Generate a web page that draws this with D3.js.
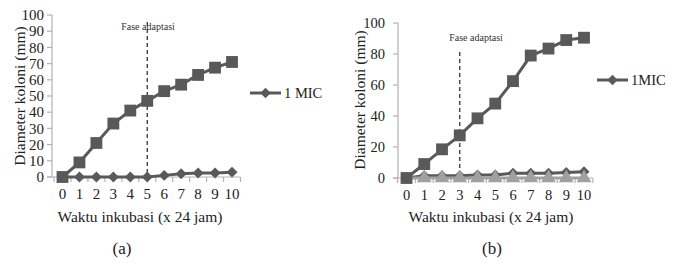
<!DOCTYPE html>
<html><head><meta charset="utf-8">
<script src="https://cdn.jsdelivr.net/npm/d3@7"></script>
<style>body{margin:0;background:#fff}svg{display:block}text{font-family:"Liberation Serif","Times New Roman",serif}</style>
</head><body><svg id="c" width="681" height="266"></svg>
<script>
const days = [0,1,2,3,4,5,6,7,8,9,10];
const leftControl = [0,9,21,33,41,47,53,57,63,67.5,71];
const leftMIC = [0,0,0,0,0,0,1,2,2.5,2.5,3];
const rightControl = [0,9,18.5,27.5,38.5,48,62.5,79,83.5,89,90.5];
const rightMIC = [0,1.5,1.5,1.5,2,2,3,3,3,3.5,4];
const rightOther = [0,0,0,0,0,0,0,0,0,0,0];
const leftYTicks = [0,10,20,30,40,50,60,70,80,90,100];
const rightYTicks = [0,20,40,60,80,100];
const yTitle = "Diameter koloni (mm)";
const xTitle = "Waktu inkubasi (x 24 jam)";
const phaseLabel = "Fase adaptasi";

const svg = d3.select("#c");
const dark = "#595959", light = "#a0a0a0", axisC = "#b3b3b3";

function panel(o){
  const g = svg.append("g");
  const x = d3.scaleLinear().domain([0,10]).range([o.x0,o.x1]);
  const step = (o.x1-o.x0)/10;
  const y = d3.scaleLinear().domain([0,100]).range([o.yb,o.yt]);
  g.append("line").attr("x1",o.ax).attr("x2",o.ax).attr("y1",o.yt).attr("y2",o.yb).attr("stroke",axisC).attr("stroke-width",1.2);
  o.yticks.forEach(t=>{
    g.append("line").attr("x1",o.ax-5).attr("x2",o.ax).attr("y1",y(t)).attr("y2",y(t)).attr("stroke",axisC).attr("stroke-width",1.2);
    g.append("text").attr("x",o.lx).attr("y",y(t)).attr("dy","0.35em").attr("text-anchor","end").attr("font-size",o.tfs).attr("fill","#222").text(t);
  });
  const xa1 = o.x1+step/2;
  g.append("line").attr("x1",o.ax-5).attr("x2",xa1).attr("y1",o.yb).attr("y2",o.yb).attr("stroke",axisC).attr("stroke-width",1.2);
  for(let i=0;i<=11;i++){
    const xx = x(i-0.5);
    g.append("line").attr("x1",xx).attr("x2",xx).attr("y1",o.yb).attr("y2",o.yb+5).attr("stroke",axisC).attr("stroke-width",1.2);
  }
  days.forEach(d=>{
    g.append("text").attr("x",x(d)).attr("y",o.yb+17).attr("dy","0.35em").attr("text-anchor","middle").attr("font-size",o.tfs).attr("fill","#222").text(d);
  });
  g.append("line").attr("x1",x(o.phase)).attr("x2",x(o.phase)).attr("y1",o.dashTop).attr("y2",o.yb).attr("stroke","#333").attr("stroke-width",1.3).attr("stroke-dasharray","4,3");
  g.append("text").attr("x",o.phaseLx).attr("y",o.phaseLy).attr("dy","0.35em").attr("text-anchor","middle").attr("font-size",10).attr("fill","#333").text(phaseLabel);
  g.append("text").attr("transform",`translate(${o.ytx},${o.yty}) rotate(-90)`).attr("dy","0.35em").attr("text-anchor","middle").attr("font-size",15.5).attr("fill","#222").text(yTitle);
  g.append("text").attr("x",o.xtx).attr("y",217).attr("dy","0.35em").attr("text-anchor","middle").attr("font-size",15.5).attr("fill","#222").text(xTitle);
  g.append("text").attr("x",o.capx).attr("y",248).attr("dy","0.35em").attr("text-anchor","middle").attr("font-size",17).attr("fill","#222").text(o.cap);
  const line = d3.line().x((d,i)=>x(days[i])).y(d=>y(d));
  const sym = (type,size)=>d3.symbol().type(type).size(size)();
  function series(vals,color,type,size,skipFirst,rot){
    g.append("path").attr("d",line(vals)).attr("fill","none").attr("stroke",color).attr("stroke-width",3);
    vals.forEach((v,i)=>{
      if(skipFirst && i===0) return;
      g.append("path").attr("d",sym(type,size)).attr("transform",`translate(${x(days[i])},${y(v)}) rotate(${rot||0})`).attr("fill",color);
    });
  }
  o.series.forEach(s=>series(s.v,s.c,s.t,s.s,s.skip,s.r));
  g.append("line").attr("x1",o.legX).attr("x2",o.legX+31).attr("y1",o.legY).attr("y2",o.legY).attr("stroke",dark).attr("stroke-width",3);
  g.append("path").attr("d",sym(d3.symbolSquare,56)).attr("transform",`translate(${o.legX+15.5},${o.legY}) rotate(45)`).attr("fill",dark);
  g.append("text").attr("x",o.legX+34).attr("y",o.legY).attr("dy","0.35em").attr("font-size",14.5).attr("fill","#222").text(o.legText);
}

panel({x0:62.5,x1:232,yb:177,yt:15,ax:52,lx:44,tfs:15,yticks:leftYTicks,phase:5,dashTop:22,phaseLx:148,phaseLy:26,
  ytx:20,yty:96,xtx:140,capx:122,cap:"(a)",legX:250,legY:93,legText:"1 MIC",
  series:[{v:leftMIC,c:dark,t:d3.symbolSquare,s:60,r:45},{v:leftControl,c:dark,t:d3.symbolSquare,s:140}]});
panel({x0:406.5,x1:584,yb:178,yt:23,ax:398,lx:385,tfs:14.5,yticks:rightYTicks,phase:3,dashTop:52,phaseLx:476,phaseLy:37,
  ytx:360,yty:100,xtx:491,capx:492,cap:"(b)",legX:597,legY:80,legText:"1MIC",
  series:[{v:rightMIC,c:dark,t:d3.symbolSquare,s:60,r:45},{v:rightOther,c:light,t:d3.symbolTriangle,s:95,skip:true},{v:rightControl,c:dark,t:d3.symbolSquare,s:140}]});
</script></body></html>
